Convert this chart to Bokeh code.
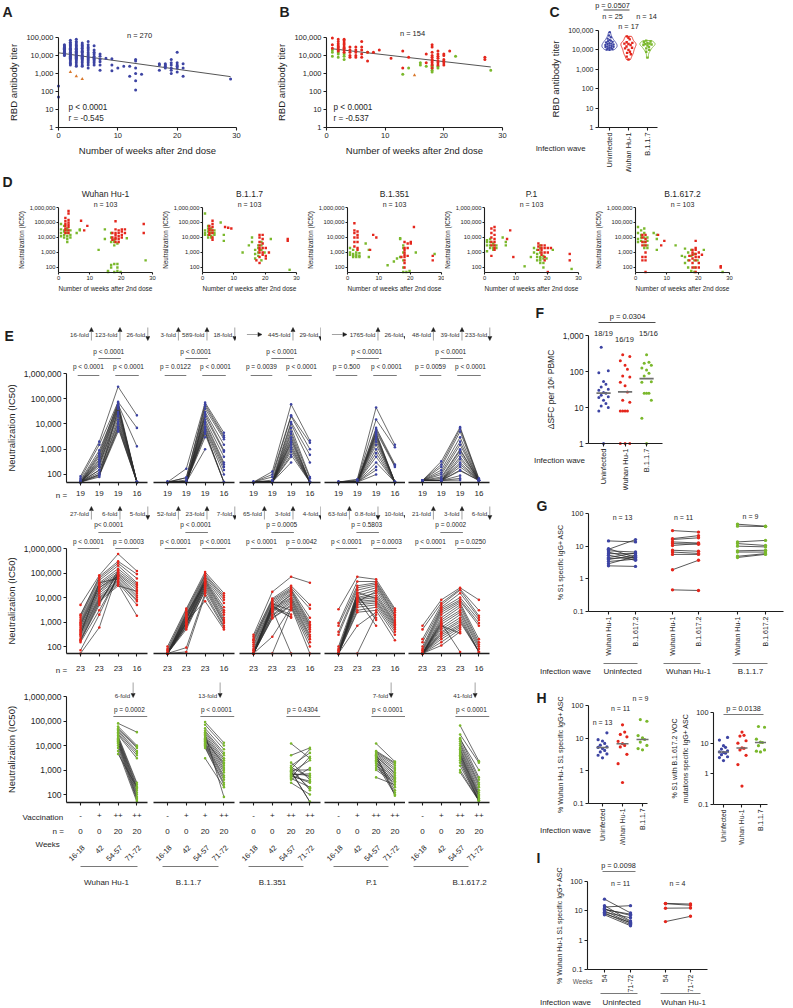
import math
import numpy as np
from bokeh.plotting import figure
from bokeh.models import Range1d, FixedTicker, NumeralTickFormatter, Label, Arrow, NormalHead
from bokeh.layouts import row, column
from bokeh.embed import file_html
from bokeh.resources import INLINE

# ============================ DATA ============================
# A  RBD antibody titer vs weeks after 2nd dose (uninfected)
A_WEEK = [0, 1, 2, 3, 4, 5, 6, 7, 8, 9, 10, 11, 12, 13, 14, 17, 18, 19, 20, 21, 29]
A_TITER = [
    [200, 50],
    [40000, 35000, 30000, 28000, 25000, 22000, 20000, 18000, 16000, 15000, 14000, 12000, 11000, 10000],
    [70000, 55000, 45000, 40000, 35000, 30000, 25000, 22000, 20000, 18000, 15000, 13000, 12000, 10000, 9000, 8000, 7000, 6000, 5000, 4000, 3500, 3000],
    [80000, 60000, 50000, 40000, 35000, 30000, 25000, 22000, 20000, 17000, 15000, 13000, 11000, 10000, 9000, 8000, 7000, 6000, 5000, 4000, 3000, 2500],
    [50000, 40000, 35000, 30000, 25000, 20000, 17000, 15000, 12000, 10000, 9000, 8000, 7000, 6000, 5000, 4000, 3000, 2500],
    [60000, 40000, 30000, 25000, 20000, 15000, 12000, 10000, 8000, 7000, 6000, 5000, 4000, 3000, 2000],
    [35000, 20000, 15000, 12000, 9000, 7000, 6000, 5000, 4000, 3000],
    [12000, 9000, 6000, 4500, 3000, 1500],
    [7000],
    [6500, 3000, 1400],
    [2000],
    [2500],
    [2500, 700],
    [6000, 5000, 2000, 1000, 400, 120],
    [900],
    [3500, 3000, 1500],
    [3500, 3000, 2500, 2000],
    [6000, 4000, 3000, 2000, 1500, 1000],
    [15000, 4000, 3000, 2500, 2000, 1200],
    [3500, 2000, 700],
    [500],
]
A_ORANGE_WEEK = [2, 3, 4]
A_ORANGE_TITER = [[1200], [700], [500]]

# B  RBD antibody titer vs weeks (previously infected)
B_RED_WEEK = [1, 2, 3, 4, 5, 6, 7, 8, 9, 11, 13, 14, 17, 18, 19, 20, 21, 27]
B_RED = [
    [95000, 40000, 25000],
    [80000, 60000, 45000, 35000, 30000, 25000, 20000, 18000],
    [80000, 65000, 50000, 40000, 30000, 25000, 20000, 15000],
    [30000, 20000, 15000, 10000, 8000],
    [30000, 20000, 15000, 10000, 8000],
    [60000, 30000, 20000, 12000, 8000],
    [15000, 5000],
    [15000],
    [20000],
    [7000],
    [18000, 2000],
    [8000],
    [12000, 4000],
    [40000, 30000, 15000, 10000, 8000, 6000, 5000, 4000, 3000, 2000],
    [18000, 12000, 9000, 7000, 5000, 4000, 3000],
    [12000, 10000, 6000, 5000, 4000, 3000],
    [18000],
    [8000, 6000],
]
B_GREEN_WEEK = [1, 2, 3, 7, 13, 14, 16, 17, 18, 19, 22, 28]
B_GREEN = [
    [20000, 15000, 9000], [15000, 12000, 8000], [12000, 9000, 6000], [15000], [900], [2000],
    [4000, 3000], [2500], [3000, 2500, 2000, 1500, 1200], [2500, 2000], [9000], [1500],
]
B_ORANGE_WEEK = [15]
B_ORANGE = [[800]]

# C  RBD titer by infection wave
C_GROUPS = ["Uninfected", "Wuhan Hu-1", "B.1.1.7"]
C_UNINF = [82000, 55000, 45000, 38000, 33000, 30000, 28000, 26000, 24000, 22000, 21000, 20000, 19000,
           18000, 17000, 16000, 15000, 14500, 14000, 13000, 12500, 12000, 11000, 10500, 10000]
C_WUHAN = [50000, 42000, 35000, 25000, 23000, 21000, 20000, 18000, 15000, 13000, 12000, 10000, 8000,
           7000, 6000, 4500, 3200]
C_B117 = [30000, 27000, 25000, 22000, 21000, 20000, 19000, 18000, 17000, 14000, 12000, 10000, 8000, 4000]

# D  neutralization vs weeks, per variant (red = Wuhan Hu-1 wave, green = B.1.1.7 wave)
D_VARIANTS = ["Wuhan Hu-1", "B.1.1.7", "B.1.351", "P.1", "B.1.617.2"]
D_RED_WEEK = [2, 3, 7, 8, 9, 17, 18, 19, 20, 21, 27]
D_WUHAN_RED = [[200000, 120000, 80000, 60000, 40000, 30000, 20000], [600000, 400000, 150000, 100000, 70000, 50000, 30000, 20000],
               [130000], [30000], [60000], [20000, 10000, 7000], [120000, 35000, 20000, 15000, 10000, 8000, 5000],
               [30000, 20000, 12000, 8000, 5000], [35000, 25000, 15000, 10000], [35000, 20000], [80000, 20000]]
D_B117_RED = [[60000, 40000, 30000, 20000, 15000], [130000, 80000, 50000, 30000, 20000, 10000, 7000], [50000], [45000], [40000],
              [300], [15000, 10000, 5000, 3000, 2000, 1500, 1000, 500, 200], [15000, 8000, 4000, 2000, 1000, 700],
              [2000, 600, 400], [1000], [8000, 6000]]
D_B1351_RED = [[90000, 30000, 20000, 10000, 5000, 2500], [25000, 15000, 10000, 5000, 2000, 1500], [1500], [15000], [10000],
               [500], [5000, 2000, 1500, 1000, 700, 500, 300, 200, 100], [4000, 2000, 600], [5000, 4000], [50000], [600, 300]]
D_P1_RED = [[40000, 20000, 10000, 5000, 3000, 600], [50000, 30000, 15000, 8000, 5000, 3000, 2000, 1500], [8000], [30000], [500],
            [4000, 2500, 1500], [3000, 2000, 1500, 1000, 700], [3000, 2000, 1000, 500, 300], [2000, 1000, 50], [2000], [800, 300]]
D_B16172_RED = [[15000, 10000, 5000, 3000, 500, 300], [15000, 8000, 5000, 3000, 1000, 500, 300, 50], [15000], [3000], [6000],
                [600, 300], [1500, 1000, 700, 400, 200, 100], [6000, 2000, 1500, 800, 500, 300, 100, 50], [1000, 500, 200, 100],
                [700], [120, 100]]
D_GREEN_WEEK = [1, 2, 3, 4, 6, 7, 13, 15, 16, 17, 18, 19, 20, 22, 28]
D_WUHAN_GREEN = [[80000, 35000, 20000, 12000], [60000, 30000, 25000, 15000, 10000], [40000, 30000, 20000, 12000, 8000, 5000],
                 [30000, 15000, 10000], [20000], [35000, 30000], [1500], [35000, 8000], [60, 50], [20000, 10000, 5000, 150, 100],
                 [7000, 5000, 3000, 170, 50], [4000, 170, 100, 60], [50], [9000], [300]]
D_B117_GREEN = [[400000, 30000, 20000, 15000], [60000, 40000, 25000, 15000, 10000], [40000, 30000, 20000, 12000, 10000],
                [30000, 20000, 15000], [100000], [15000, 6000], [1000], [3000], [10000, 5000], [1500, 800, 400],
                [3000, 2000, 1000, 600], [5000, 3000, 1500, 300], [1000], [8000], [70]]
D_B1351_GREEN = [[2000, 1000, 700], [1500, 800, 600, 500], [1000, 700, 500], [900, 600, 500], [4000], [1500, 500], [140],
                 [250], [400], [9000, 8000, 500], [3000, 2000, 1000, 300, 100, 50], [50], [60], [1000], [800]]
D_P1_GREEN = [[6600, 5000, 3000, 1200], [8000, 5000, 3000, 2000], [4000, 3000, 2000, 1500], [3000, 2000], [10000], [5000, 3000],
              [120], [500], [1000, 2000], [300, 500, 800, 1500], [200, 300, 400, 500, 1000, 2000, 3000], [100, 200, 400, 600],
              [400], [1500], [80]]
D_B16172_GREEN = [[50000, 20000, 8000, 5000], [30000, 15000, 10000, 6000], [40000, 20000, 10000, 5000, 3000, 2000],
                  [10000, 6000, 3000, 2000], [20000], [15000, 8000, 1500], [3000], [600], [1800, 500, 200], [1000, 100, 300],
                  [1500, 600, 60], [800, 300, 100, 50], [300], [1500], [50]]

# E  longitudinal neutralization; each list = [t1, t2, t3, t4] values per participant
E_VARIANTS = ["Wuhan Hu-1", "B.1.1.7", "B.1.351", "P.1", "B.1.617.2"]
E1_WUHAN = [[85, 70, 60, 55, 50, 50, 50, 50, 50, 50, 50, 50, 50, 50, 50, 50, 50, 50, 50],
            [2000, 1500, 900, 700, 600, 500, 400, 350, 300, 250, 250, 200, 150, 150, 120, 100, 100, 90, 80],
            [300000, 75000, 60000, 70000, 55000, 50000, 45000, 40000, 30000, 25000, 20000, 15000, 12000, 10000, 8000, 7000, 6000, 5000, 40000],
            [22000, 7000, 1300, 50, 50, 50, 50, 50, 50, 50, 50, 50, 50, 50, 50, 50]]
E1_B117 = [[50, 50, 50, 50, 50, 50, 50, 50, 50, 50, 50, 50, 50, 50, 50, 50, 50, 50, 50],
           [170, 75, 75, 60, 50, 50, 50, 50, 50, 50, 50, 50, 50, 50, 50, 50, 50, 50, 50],
           [70000, 60000, 50000, 40000, 30000, 25000, 20000, 15000, 12000, 10000, 8000, 7000, 6000, 5000, 5000, 4000, 3000, 1000, 20000],
           [4500, 3500, 3000, 2500, 1500, 900, 800, 500, 300, 250, 200, 150, 100, 50, 50, 50]]
E1_B1351 = [[50, 50, 50, 50, 50, 50, 50, 50, 50, 50, 50, 50, 50, 50, 50, 50, 50, 50, 50],
            [130, 100, 80, 60, 50, 50, 50, 50, 50, 50, 50, 50, 50, 50, 50, 50, 50, 50, 50],
            [60000, 22000, 20000, 12000, 10000, 7000, 5000, 4000, 3000, 2500, 2000, 1500, 1200, 1000, 800, 600, 500, 300, 1800],
            [2200, 1800, 1000, 600, 300, 80, 70, 50, 50, 50, 50, 50, 50, 50, 50, 50]]
E1_P1 = [[50, 50, 50, 50, 50, 50, 50, 50, 50, 50, 50, 50, 50, 50, 50, 50, 50, 50, 50],
         [65, 60, 55, 50, 50, 50, 50, 50, 50, 50, 50, 50, 50, 50, 50, 50, 50, 50, 50],
         [45000, 15000, 7000, 6000, 5000, 4500, 4000, 3500, 3000, 2500, 2000, 1500, 1000, 700, 500, 300, 200, 150, 100],
         [1500, 1200, 250, 220, 200, 50, 50, 50, 50, 50, 50, 50, 50, 50, 50, 50]]
E1_B16172 = [[58, 58, 58, 58, 58, 58, 58, 58, 58, 58, 58, 58, 58, 58, 58, 58, 58, 58, 58],
             [330, 250, 200, 150, 120, 100, 80, 70, 60, 58, 58, 58, 58, 58, 58, 58, 58, 58, 58],
             [7500, 6500, 5000, 3000, 2000, 1500, 1000, 900, 700, 500, 400, 300, 250, 200, 150, 140, 90, 70, 60],
             [70, 65, 60, 58, 58, 58, 58, 58, 58, 58, 58, 58, 58, 58, 58, 58]]

E2_WUHAN = [[5000, 2000, 1800, 1500, 1200, 1000, 900, 800, 600, 500, 450, 400, 350, 300, 250, 200, 180, 170, 150, 70, 52, 300, 700],
            [80000, 70000, 60000, 50000, 40000, 35000, 30000, 25000, 20000, 18000, 15000, 12000, 10000, 9000, 8000, 7000, 6000, 5000, 3000, 2000, 600, 40000, 25000],
            [600000, 300000, 250000, 200000, 150000, 120000, 100000, 90000, 80000, 70000, 60000, 50000, 45000, 40000, 35000, 30000, 100000, 130000, 70000, 85000, 110000, 60000, 75000],
            [120000, 90000, 60000, 40000, 35000, 30000, 25000, 20000, 15000, 12000, 10000, 8000, 7000, 5000, 1800, 18000]]
E2_B117 = [[100, 80, 70, 60, 55, 52, 52, 52, 52, 52, 52, 52, 52, 52, 52, 52, 52, 52, 52, 52, 52, 52, 52],
           [3500, 3000, 2500, 2000, 1800, 1500, 1200, 1000, 900, 800, 700, 600, 500, 90, 60, 1100, 1300, 1700, 2200, 1400, 950, 850, 650],
           [110000, 90000, 80000, 70000, 60000, 55000, 50000, 45000, 40000, 35000, 30000, 25000, 20000, 15000, 12000, 7000, 50000, 42000, 38000, 33000, 28000, 23000, 18000],
           [15000, 12000, 10000, 8000, 6000, 4000, 3000, 2500, 2000, 1500, 1200, 1000, 900, 700, 600, 500]]
E2_B1351 = [[300, 250, 200, 180, 150, 120, 100, 80, 70, 60, 52, 52, 52, 52, 52, 52, 52, 52, 52, 52, 52, 52, 52],
            [17000, 9000, 8000, 7000, 6000, 5000, 4500, 4000, 3500, 3000, 2500, 2000, 1800, 1500, 1400, 250, 52, 5500, 4200, 3800, 4800, 3300, 2800],
            [70000, 30000, 25000, 22000, 20000, 18000, 15000, 12000, 10000, 9000, 8000, 7000, 6000, 5000, 4500, 4000, 3500, 3000, 2000, 1600, 1500, 52, 14000],
            [40000, 5000, 3500, 1500, 1000, 800, 700, 600, 500, 400, 300, 250, 200, 150, 100, 52]]
E2_P1 = [[3300, 900, 700, 400, 300, 100, 80, 70, 60, 55, 52, 52, 52, 52, 52, 52, 52, 52, 52, 52, 52, 52, 52],
         [70000, 45000, 30000, 25000, 20000, 15000, 12000, 10000, 9000, 8000, 7000, 6000, 5000, 4000, 3000, 2500, 700, 52, 11000, 13000, 8500, 6500, 16000],
         [55000, 45000, 40000, 35000, 30000, 25000, 20000, 15000, 12000, 10000, 8000, 7000, 6000, 5000, 4000, 3000, 2500, 2000, 1500, 1200, 700, 18000, 9000],
         [3500, 3000, 2500, 2000, 1800, 1500, 1200, 1000, 900, 800, 700, 600, 500, 400, 300, 180]]
E2_B16172 = [[700, 500, 200, 150, 100, 80, 70, 60, 52, 52, 52, 52, 52, 52, 52, 52, 52, 52, 52, 52, 52, 52, 52],
             [8000, 6000, 5000, 4000, 3500, 3000, 2500, 2000, 1500, 1200, 1000, 800, 600, 500, 400, 350, 300, 250, 200, 150, 110, 700, 900],
             [25000, 22000, 20000, 15000, 10000, 8000, 7000, 6000, 5000, 4000, 3000, 2500, 2000, 1500, 1200, 1000, 800, 700, 600, 500, 400, 350, 60],
             [8000, 3000, 1800, 1500, 1200, 900, 700, 200, 150, 120, 100, 80, 60, 60, 60, 60]]

E3_WUHAN = [[80000, 60000, 50000, 45000, 40000, 35000, 30000, 27000, 25000, 22000, 20000, 18000, 16000, 15000, 13000, 12000, 10000, 8000, 6000, 4500],
            [35000, 10000, 9000, 8000, 6000, 5000, 4000, 3000, 300, 250, 200, 180, 150, 120, 100, 80, 70, 60, 50, 200]]
E3_B117 = [[90000, 70000, 50000, 40000, 35000, 30000, 25000, 22000, 20000, 18000, 15000, 13000, 12000, 11000, 10000, 9000, 8000, 3000, 28000, 16000],
           [13000, 10000, 7000, 5000, 4000, 3000, 2500, 2000, 1500, 1200, 1000, 800, 600, 500, 400, 300, 250, 200, 80, 1800]]
E3_B1351 = [[12000, 4000, 2000, 1500, 1200, 1100, 1000, 900, 800, 700, 600, 500, 450, 400, 300, 1300, 850, 650, 550, 950],
            [3000, 8000, 400, 5000, 150, 7000, 1000, 50, 2500, 600, 300, 3500, 200, 1200, 100, 500, 50, 700, 350, 180]]
E3_P1 = [[12000, 6000, 5500, 5000, 4500, 4000, 3500, 3000, 2500, 2000, 1500, 1200, 1000, 500, 3200, 2800, 2200, 1800, 4200, 3700],
         [2200, 2000, 1800, 1500, 1200, 1000, 800, 600, 500, 450, 400, 350, 300, 250, 200, 150, 120, 100, 90, 700]]
E3_B16172 = [[65000, 28000, 20000, 15000, 12000, 10000, 8000, 7000, 6000, 5000, 4500, 4000, 3500, 3000, 2500, 2000, 1500, 1000, 800, 18000],
             [2300, 2000, 500, 400, 300, 250, 200, 150, 120, 100, 90, 80, 70, 60, 55, 55, 55, 55, 55, 1000]]

E1_FOLD = [[("16-fold", "up"), ("123-fold", "up"), ("26-fold", "down")],
           [("3-fold", "up"), ("589-fold", "up"), ("18-fold", "down")],
           [("", "right"), ("445-fold", "up"), ("29-fold", "down")],
           [("", "right"), ("1765-fold", "up"), ("26-fold", "down")],
           [("48-fold", "up"), ("39-fold", "up"), ("233-fold", "down")]]
E2_FOLD = [[("27-fold", "up"), ("6-fold", "up"), ("5-fold", "down")],
           [("52-fold", "up"), ("23-fold", "up"), ("7-fold", "down")],
           [("65-fold", "up"), ("3-fold", "up"), ("4-fold", "down")],
           [("63-fold", "up"), ("0.8-fold", "down"), ("10-fold", "down")],
           [("21-fold", "up"), ("3-fold", "up"), ("6-fold", "down")]]
E3_FOLD = ["6-fold", "13-fold", "", "7-fold", "41-fold"]
E1_P = [["p < 0.0001", "p < 0.0001", "p < 0.0001"], ["p = 0.0122", "p < 0.0001", "p < 0.0001"],
        ["p = 0.0039", "p < 0.0001", "p < 0.0001"], ["p = 0.500", "p < 0.0001", "p < 0.0001"],
        ["p = 0.0059", "p < 0.0001", "p < 0.0001"]]
E2_P = [["p < 0.0001", "p< 0.0001", "p = 0.0003"], ["p < 0.0001", "p < 0.0001", "p < 0.0001"],
        ["p < 0.0001", "p = 0.0005", "p = 0.0042"], ["p < 0.0001", "p = 0.5803", "p = 0.0003"],
        ["p < 0.0001", "p = 0.0002", "p = 0.0250"]]
E3_P = ["p = 0.0002", "p < 0.0001", "p = 0.4304", "p < 0.0001", "p < 0.0001"]
E_VACC = [["-", "+", "++", "++"], ["-", "+", "+", "++"], ["-", "+", "++", "++"], ["-", "+", "++", "++"], ["-", "+", "++", "++"]]
E_WEEKS = ["16-18", "42", "54-57", "71-72"]

# F  ELISpot
F_UNINF = [470, 105, 92, 53, 44, 37, 32, 30, 26, 25, 22, 20, 19, 16, 13, 11, 10, 8, 1]
F_WUHAN = [290, 260, 200, 150, 115, 75, 70, 50, 40, 27, 16, 14, 8, 8, 8, 8, 1, 1, 1]
F_B117 = [290, 180, 170, 150, 125, 110, 90, 75, 52, 50, 25, 25, 25, 16, 5, 1]
F_RESP = ["18/19", "16/19", "15/16"]

# G  paired % S1-specific IgG+ ASC: Wuhan Hu-1 vs B.1.617.2
G_UNINF_WU = [14.5, 8.4, 8, 7.2, 6.6, 5.9, 5.3, 4.5, 4.2, 3.9, 3.4, 2.9, 2.5]
G_UNINF_DELTA = [13.5, 4.5, 15.9, 6.6, 4.1, 5.9, 3.7, 6.2, 4.5, 5.3, 4.0, 4.8, 2.4]
G_WUHAN_WU = [30, 17, 16, 13.5, 12, 10.5, 7.5, 6.6, 5.6, 1.9, 0.46]
G_WUHAN_DELTA = [27, 21, 18, 12.5, 11.5, 12, 7, 6, 5.6, 3.7, 0.44]
G_B117_WU = [47, 41, 13.5, 12, 10, 7.2, 6.6, 4.9, 4.5]
G_B117_DELTA = [41, 40, 15, 10.5, 9.5, 7.5, 6.6, 5.9, 5.6]

# H
H1_UNINF = [14.6, 9, 8.2, 6.9, 6.1, 5.4, 4.8, 4.2, 3.8, 3.3, 3.0, 2.5, 5.2]
H1_WUHAN = [25.7, 15.4, 13, 11, 8, 6.8, 6, 5.4, 3.2, 1.66, 0.44]
H1_B117 = [37, 33, 12, 10.3, 9.1, 7.6, 6, 4.4, 4.8]
H2_UNINF = [15.4, 12.6, 8.3, 7.3, 6.4, 5.6, 5, 4.7, 4.2, 3.6, 3.4, 2.7, 5.2]
H2_WUHAN = [23, 18, 17, 12, 10, 7, 6.8, 6, 4, 2, 0.4]
H2_B117 = [35, 33, 13.5, 10.8, 10.5, 8.3, 6, 5.5, 5.2]

# I  paired week 54 vs 71-72
I_UNINF_54 = [25, 15, 13.5, 12, 11, 10, 9, 8.5, 8, 7.3, 11.5]
I_UNINF_72 = [8.5, 4.5, 15, 4.2, 7.7, 3.8, 5.8, 3.4, 4, 3.1, 7]
I_WUHAN_54 = [18, 12.3, 4.3, 17.5]
I_WUHAN_72 = [17, 12.5, 6.5, 15.5]

# ============================ STYLE ============================
FONT = "Liberation Sans"
BLUE = "#3d44a3"
RED = "#e4261c"
GREEN = "#7ab82c"
ORANGE = "#d9782c"
INK = "#1e1e1e"
GREY = "#6a6a6a"
LINE = "#2e2e2e"
RIGHT = 792
BOTTOM = 1007


def fs(v):
    return "%.1fpx" % v


class Panel:
    """A figure whose frame fills its whole canvas; the data area is a sub-rectangle,
    and the axes are pinned to its edges with fixed_location/bounds."""

    def __init__(self, canvas, frame, xr, yr, ylog=True):
        self.frame = frame
        self.xr = xr
        self.yr = yr
        self.ylog = ylog
        x0, y0, x1, y1 = canvas
        self.cx0 = x0
        self.cy0 = y0
        p = figure(width=x1 - x0, height=y1 - y0,
                   min_border=0, min_border_left=0, min_border_right=0, min_border_top=0, min_border_bottom=0,
                   x_range=Range1d(self.dx(x0), self.dx(x1)), y_range=Range1d(self.dy(y1), self.dy(y0)),
                   y_axis_type="log" if ylog else "linear",
                   output_backend="svg", toolbar_location=None)
        p.outline_line_color = None
        p.xgrid.visible = False
        p.ygrid.visible = False
        p.background_fill_color = "white"
        p.border_fill_color = "white"
        p.xaxis.fixed_location = yr[0]
        p.yaxis.fixed_location = xr[0]
        p.xaxis.bounds = (xr[0], xr[1])
        p.yaxis.bounds = (yr[0], yr[1])
        for ax in p.axis:
            ax.axis_line_color = INK
            ax.axis_line_width = 1.1
            ax.major_tick_line_color = INK
            ax.major_tick_line_width = 1.1
            ax.major_tick_in = 0
            ax.major_tick_out = 3
            ax.minor_tick_line_color = None
            ax.major_label_standoff = 2
            ax.major_label_text_font = FONT
            ax.major_label_text_color = INK
            ax.axis_label_text_font = FONT
            ax.axis_label_text_font_style = "normal"
            ax.axis_label_text_color = INK
            ax.axis_label_standoff = 4
        self.p = p

    def dx(self, px):
        fx0, _, fx1, _ = self.frame
        return self.xr[0] + (px - fx0) / (fx1 - fx0) * (self.xr[1] - self.xr[0])

    def dy(self, py):
        _, fy0, _, fy1 = self.frame
        t = (fy1 - py) / (fy1 - fy0)
        if self.ylog:
            a, b = math.log10(self.yr[0]), math.log10(self.yr[1])
            return 10 ** (a + t * (b - a))
        return self.yr[0] + t * (self.yr[1] - self.yr[0])

    def text(self, px, py, s, size=7, align="center", baseline="middle", angle=0.0, color=INK, bold=False):
        self.p.add_layout(Label(x=px - self.cx0, y=py - self.cy0, x_units="canvas", y_units="canvas",
                                text=s, text_font=FONT, text_font_size=fs(size),
                                text_align=align, text_baseline=baseline, angle=angle, text_color=color,
                                text_font_style="bold" if bold else "normal"))

    def seg(self, x0, y0, x1, y1, color=GREY, width=0.9):
        self.p.add_layout(Arrow(x_start=self.dx(x0), y_start=self.dy(y0), x_end=self.dx(x1), y_end=self.dy(y1),
                                start=None, end=None, line_color=color, line_width=width))

    def arrow(self, x0, y0, x1, y1):
        self.p.add_layout(Arrow(x_start=self.dx(x0), y_start=self.dy(y0), x_end=self.dx(x1), y_end=self.dy(y1),
                                start=None, end=NormalHead(size=4, fill_color=INK, line_color=INK, line_width=0.5),
                                line_color="#8a8a8a", line_width=0.8))

    def yticks(self, ticks, size):
        ax = self.p.yaxis
        ax.ticker = FixedTicker(ticks=list(ticks))
        ax.formatter = NumeralTickFormatter(format="0,0.[0]")
        ax.major_label_text_font_size = fs(size)

    def xticks(self, ticks, labels=None, size=7, orient=None):
        ax = self.p.xaxis
        ax.ticker = FixedTicker(ticks=list(ticks))
        if labels is not None:
            ax.major_label_overrides = {t: l for t, l in zip(ticks, labels)}
        ax.major_label_text_font_size = fs(size)
        if orient is not None:
            ax.major_label_orientation = orient

    def ytitle(self, s, size):
        self.p.yaxis.axis_label = s
        self.p.yaxis.axis_label_text_font_size = fs(size)

    def xtitle(self, s, size):
        self.p.xaxis.axis_label = s
        self.p.xaxis.axis_label_text_font_size = fs(size)


def flat(weeks, vals, off=0.0):
    xs, ys = [], []
    for w, vs in zip(weeks, vals):
        for v in vs:
            xs.append(w + off)
            ys.append(v)
    return xs, ys


def fit_line(panel, xs, ys):
    x = np.array(xs, float)
    k, b = np.polyfit(x, np.log10(np.array(ys, float)), 1)
    x0, x1 = float(x.min()), float(x.max())
    panel.p.line([x0, x1], [10 ** (b + k * x0), 10 ** (b + k * x1)], line_color="#555555", line_width=1)


def spread(vals, center, width):
    order = np.argsort(vals)
    pattern = [0.0, -1.0, 1.0, -0.5, 0.5]
    xs = np.zeros(len(vals))
    for rank, idx in enumerate(order):
        xs[idx] = center + pattern[rank % 5] * width
    return list(xs)


def dotplot(panel, groups, colors, size=3.2, width=0.2, medw=0.33, medcolor="#6f6f6f", medwidth=1.8):
    for k, (vals, col) in enumerate(zip(groups, colors)):
        panel.p.scatter(spread(vals, k, width), vals, size=size, color=col, line_width=0)
        m = float(np.median(vals))
        panel.p.segment([k - medw], [m], [k + medw], [m], line_color=medcolor, line_width=medwidth)


def pairs(panel, x0, x1, a, b, col, size=3.4):
    panel.p.multi_line([[x0, x1] for _ in a], [[u, v] for u, v in zip(a, b)], line_color=LINE, line_width=0.8)
    panel.p.scatter([x0] * len(a) + [x1] * len(b), list(a) + list(b), size=size, color=col, line_width=0)


# ============================ TOP ROW: A, B, C ============================
TOP = 172
A = Panel((0, 0, 272, TOP), (58, 37, 236, 127), (0, 30), (1, 1e5))
A.yticks([1, 10, 100, 1000, 1e4, 1e5], 7.5)
A.xticks([0, 10, 20, 30], size=7.5)
A.ytitle("RBD antibody titer", 9.5)
A.xtitle("Number of weeks after 2nd dose", 9.5)
ax_, ay_ = flat(A_WEEK, A_TITER)
ox_, oy_ = flat(A_ORANGE_WEEK, A_ORANGE_TITER)
fit_line(A, ax_ + ox_, ay_ + oy_)
A.p.scatter(ax_, ay_, size=3.0, color=BLUE, line_width=0)
A.p.scatter(ox_, oy_, marker="triangle", size=3.4, color=ORANGE, line_width=0)
A.text(139, 35, "n = 270", 7.5)
A.text(68, 107, "p < 0.0001", 8.2, align="left")
A.text(68, 118, "r = -0.545", 8.2, align="left")
A.text(2, 11, "A", 14, align="left", bold=True)

B = Panel((272, 0, 515, TOP), (326, 37, 502, 127), (0, 30), (1, 1e5))
B.yticks([1, 10, 100, 1000, 1e4, 1e5], 7.5)
B.xticks([0, 10, 20, 30], size=7.5)
B.ytitle("RBD antibody titer", 9.5)
B.xtitle("Number of weeks after 2nd dose", 9.5)
brx, bry = flat(B_RED_WEEK, B_RED)
bgx, bgy = flat(B_GREEN_WEEK, B_GREEN)
box, boy = flat(B_ORANGE_WEEK, B_ORANGE)
fit_line(B, brx + bgx + box, bry + bgy + boy)
B.p.scatter(bgx, bgy, size=3.0, color=GREEN, line_width=0)
B.p.scatter(brx, bry, size=3.0, color=RED, line_width=0)
B.p.scatter(box, boy, marker="triangle", size=3.4, color=ORANGE, line_width=0)
B.text(412, 33, "n = 154", 7.5)
B.text(333, 107, "p < 0.0001", 8.2, align="left")
B.text(333, 118, "r = -0.537", 8.2, align="left")
B.text(279, 11, "B", 14, align="left", bold=True)

C = Panel((515, 0, RIGHT, TOP), (598, 30, 657, 127), (-0.58, 2.53), (1, 1e5))
C.yticks([1, 10, 100, 1000, 1e4, 1e5], 7)
C.xticks([0, 1, 2], C_GROUPS, size=7.3, orient=math.pi / 2)
C.ytitle("RBD antibody titer", 9.5)
for k, (vals, col, mk) in enumerate(zip([C_UNINF, C_WUHAN, C_B117], [BLUE, RED, GREEN], ["circle", "square", "square"])):
    lv = np.log10(np.array(vals, float))
    g = np.linspace(lv.min(), lv.max(), 60)
    d = np.exp(-0.5 * ((g[:, None] - lv[None, :]) / 0.12) ** 2).sum(axis=1)
    w = d / d.max() * 0.4
    C.p.patch(list(np.concatenate([k + w, (k - w)[::-1]])), list(np.concatenate([10 ** g, (10 ** g)[::-1]])),
              fill_color="white", line_color=col, line_width=0.9)
    wi = np.interp(lv, g, w)
    order = np.argsort(lv)
    pat = [0.0, -0.55, 0.55, -0.28, 0.28]
    xs = np.zeros(len(vals))
    for r, idx in enumerate(order):
        xs[idx] = k + pat[r % 5] * wi[idx]
    C.p.scatter(list(xs), vals, marker=mk, size=2.4, color=col, line_width=0)
C.text(612, 5, "p = 0.0507", 7.3)
C.seg(603, 9.5, 629, 9.5, color=INK, width=0.8)
C.text(612, 16, "n = 25", 7.3)
C.text(646, 16, "n = 14", 7.3)
C.text(628, 26, "n = 17", 7.3)
C.text(585, 148, "Infection wave", 7.8, align="right")
C.text(549, 11, "C", 14, align="left", bold=True)

# ============================ ROW D ============================
D_BOUNDS = [0, 158, 305, 444, 587, RIGHT]
D_LEFT = [58, 202, 347, 484, 635]
D_RED = [D_WUHAN_RED, D_B117_RED, D_B1351_RED, D_P1_RED, D_B16172_RED]
D_GREEN = [D_WUHAN_GREEN, D_B117_GREEN, D_B1351_GREEN, D_P1_GREEN, D_B16172_GREEN]
D_P = []
for i in range(5):
    d = Panel((D_BOUNDS[i], TOP, D_BOUNDS[i + 1], 293), (D_LEFT[i], 207, D_LEFT[i] + 94, 272), (0, 30), (46.4, 1e6))
    d.yticks([100, 1000, 1e4, 1e5, 1e6], 5.8)
    d.xticks([0, 10, 20, 30], size=5.8)
    d.p.yaxis.major_label_standoff = 1
    d.p.xaxis.major_label_standoff = 1
    d.p.yaxis.axis_label_standoff = 2
    d.p.xaxis.axis_label_standoff = 2
    d.p.yaxis.major_tick_out = 2
    d.p.xaxis.major_tick_out = 2
    d.ytitle("Neutralization (IC50)", 6.3)
    d.xtitle("Number of weeks after 2nd dose", 6.5)
    gx, gy = flat(D_GREEN_WEEK, D_GREEN[i], -0.2)
    rx, ry = flat(D_RED_WEEK, D_RED[i], 0.2)
    d.p.scatter(gx, gy, marker="square", size=2.4, color=GREEN, line_width=0)
    d.p.scatter(rx, ry, marker="square", size=2.4, color=RED, line_width=0)
    cxm = D_LEFT[i] + 47
    d.text(cxm, 193, D_VARIANTS[i], 8.5)
    d.text(cxm, 204, "n = 103", 7)
    D_P.append(d)
D_P[0].text(2, 181, "D", 14, align="left", bold=True)

# ============================ PANEL E ============================
E_START = [80, 167, 253, 338, 422]
E_STEP = 18.8
E_BOUNDS = [0, 150, 236, 321, 405, 500]
E_GEOM = [(293, 500, 373, 482, 48.2), (500, 676, 548, 653, 51.8), (676, BOTTOM, 696, 802, 47.2)]
E_DATA = [[E1_WUHAN, E1_B117, E1_B1351, E1_P1, E1_B16172],
          [E2_WUHAN, E2_B117, E2_B1351, E2_P1, E2_B16172],
          [E3_WUHAN, E3_B117, E3_B1351, E3_P1, E3_B16172]]
E_COL = [BLUE, RED, GREEN]
E_UNDER = [(80, 137), (162, 218), (248, 303), (333, 388), (413, 468)]
E_NAMEX = [106, 188, 272, 371, 469]


def ecx(i, c):
    return E_START[i] + c * E_STEP


E_ROWS = []
for r in range(3):
    cy0, cy1, fy0, fy1, ymin = E_GEOM[r]
    panels = []
    for i in range(5):
        e = Panel((E_BOUNDS[i], cy0, E_BOUNDS[i + 1], cy1), (E_START[i] - 14, fy0, E_START[i] + 67, fy1),
                  (-14 / E_STEP, 67 / E_STEP), (ymin, 1e6))
        data = E_DATA[r][i]
        col = E_COL[r]
        # tick labels below each timepoint: n for rows 1-2, vaccination status for row 3
        if r < 2:
            e.xticks([0, 1, 2, 3], [str(len(t)) for t in data], size=8)
            e.p.xaxis.major_label_standoff = 5 if r == 0 else 9
        else:
            e.xticks([0, 1, 2, 3], E_VACC[i], size=8)
            e.p.xaxis.major_label_standoff = 7
        e.p.xaxis.axis_line_width = 1.4
        if i == 0:
            e.yticks([100, 1000, 1e4, 1e5, 1e6], 8.5)
            e.ytitle("Neutralization (IC50)", 9.5)
        else:
            e.p.yaxis.visible = False
        if r < 2:
            t1, t2, t3, t4 = data
            xs, ys = [], []
            for j in range(len(t1)):
                yy = [t1[j], t2[j], t3[j]] + ([t4[j]] if j < len(t4) else [])
                xs.append(list(range(len(yy))))
                ys.append(yy)
            e.p.multi_line(xs, ys, line_color=LINE, line_width=0.7)
            px_, py_ = [], []
            for k, t in enumerate(data):
                px_ += [k] * len(t)
                py_ += t
            e.p.scatter(px_, py_, size=2.6, color=col, line_width=0)
            ny = 495 if r == 0 else 670
            if i == 0:
                e.text(61, ny, "n =", 8)
            fy = 334 if r == 0 else 513
            folds = E1_FOLD[i] if r == 0 else E2_FOLD[i]
            for k, (lab, dirn) in enumerate(folds):
                axp = ecx(i, [0.58, 2.1, 3.58][k])
                if dirn == "up":
                    e.arrow(axp, fy + 6, axp, fy - 7)
                elif dirn == "down":
                    e.arrow(axp, fy - 7, axp, fy + 6)
                else:
                    e.arrow(ecx(i, -0.35), fy, ecx(i, 0.45), fy)
                if lab:
                    e.text(axp - 2.5, fy, lab, 6.2, align="right", color="#333333")
            pv = E1_P[i] if r == 0 else E2_P[i]
            ty, tl, ly, ll = (351, 358, 366, 375) if r == 0 else (524, 532, 541, 548)
            e.text(ecx(i, 0.42), ly, pv[0], 6.5)
            e.seg(ecx(i, -0.15), ll, ecx(i, 1.0), ll)
            e.text(ecx(i, 1.5), ty, pv[1], 6.5)
            e.seg(ecx(i, 0.95), tl, ecx(i, 2.15), tl)
            e.text(ecx(i, 2.55), ly, pv[2], 6.5)
            e.seg(ecx(i, 1.85), ll, ecx(i, 3.1), ll)
        else:
            t3, t4 = data
            e.p.multi_line([[2, 3] for _ in t3], [[a, b] for a, b in zip(t3, t4)], line_color=LINE, line_width=0.7)
            e.p.scatter([2] * len(t3) + [3] * len(t4), t3 + t4, size=2.6, color=col, line_width=0)
            axp = ecx(i, 2.8)
            if E3_FOLD[i]:
                e.arrow(axp, 682, axp, 697)
                e.text(axp - 3, 695, E3_FOLD[i], 6.2, align="right", color="#333333")
            e.text(ecx(i, 2.6), 709, E3_P[i], 6.5)
            e.seg(ecx(i, 1.75), 716, ecx(i, 3.55), 716)
            if i == 0:
                e.text(22, 817, "Vaccination", 8, align="left")
                e.text(52, 831, "n =", 8, align="left")
                e.text(35, 844, "Weeks", 8, align="left")
            ns = [0, 0, len(t3), len(t4)]
            for k in range(4):
                e.text(ecx(i, k), 831, str(ns[k]), 8)
                e.text(ecx(i, k) + 3, 846, E_WEEKS[k], 7.5, align="right", angle=math.pi / 4)
            u0, u1 = E_UNDER[i]
            e.seg(u0, 866, u1, 866)
            e.text(E_NAMEX[i], 882, E_VARIANTS[i], 8)
        panels.append(e)
    E_ROWS.append(panels)
E_ROWS[0][0].text(4, 335, "E", 14, align="left", bold=True)

# ============================ RIGHT COLUMN: F, G, H, I ============================
F = Panel((500, 293, RIGHT, 490), (588, 335, 662, 443), (-0.70, 2.74), (1, 1000))
F.yticks([1, 10, 100, 1000], 8.3)
F.xticks([0, 1, 2], C_GROUPS, size=7.5, orient=math.pi / 2)
F.ytitle("ΔSFC per 10⁶ PBMC", 8.5)
dotplot(F, [F_UNINF, F_WUHAN, F_B117], [BLUE, RED, GREEN], size=3.0, width=0.22)
F.text(627, 316, "p = 0.0304", 7.5)
F.seg(598, 322, 655, 322, color=INK, width=0.8)
F.text(603, 333, F_RESP[0], 7.5)
F.text(624, 339, F_RESP[1], 7.5)
F.text(648, 333, F_RESP[2], 7.5)
F.text(559, 460, "Infection wave", 8)
F.text(535, 312, "F", 14, align="left", bold=True)

G_PX = [608, 635, 672, 698, 737, 765]
G = Panel((500, 490, RIGHT, 680), (588, 513, 783, 611), (-0.74, 6.48), (0.1, 100))
gx = [G.dx(v) for v in G_PX]
G.yticks([0.1, 1, 10, 100], 7.3)
G.xticks(gx, ["Wuhan Hu-1", "B.1.617.2"] * 3, size=7, orient=math.pi / 2)
G.ytitle("% S1 specific IgG+ ASC", 7)
pairs(G, gx[0], gx[1], G_UNINF_WU, G_UNINF_DELTA, BLUE)
pairs(G, gx[2], gx[3], G_WUHAN_WU, G_WUHAN_DELTA, RED)
pairs(G, gx[4], gx[5], G_B117_WU, G_B117_DELTA, GREEN)
G.text(622, 517, "n = %d" % len(G_UNINF_WU), 7)
G.text(683, 517, "n = %d" % len(G_WUHAN_WU), 7)
G.text(750, 516, "n = %d" % len(G_B117_WU), 7)
for (u0, u1), name, cxn in zip([(603, 637), (663, 700), (732, 767)], C_GROUPS, [622, 688, 750]):
    G.seg(u0, 663, u1, 663)
    G.text(cxn, 671, name, 8)
G.text(565, 671, "Infection wave", 8)
G.text(536, 505, "G", 14, align="left", bold=True)

H1 = Panel((500, 680, 655, 845), (588, 705, 647, 803), (-0.7, 2.25), (0.1, 100))
H1.yticks([0.1, 1, 10, 100], 7.3)
H1.xticks([0, 1, 2], C_GROUPS, size=6.8, orient=math.pi / 2)
H1.ytitle("% Wuhan Hu-1 S1 specific IgG+ ASC", 7)
dotplot(H1, [H1_UNINF, H1_WUHAN, H1_B117], [BLUE, RED, GREEN], size=3.2, width=0.22, medw=0.3, medwidth=1.5)
H1.text(602, 722, "n = %d" % len(H1_UNINF), 7)
H1.text(620, 708, "n = %d" % len(H1_WUHAN), 7)
H1.text(640, 698, "n = %d" % len(H1_B117), 7)
H1.text(565, 830, "Infection wave", 8)
H1.text(536, 697, "H", 14, align="left", bold=True)

H2 = Panel((655, 680, RIGHT, 845), (713, 712, 767, 804), (-0.54, 2.38), (0.1, 100))
H2.yticks([0.1, 1, 10, 100], 7.3)
H2.xticks([0, 1, 2], C_GROUPS, size=6.8, orient=math.pi / 2)
dotplot(H2, [H2_UNINF, H2_WUHAN, H2_B117], [BLUE, RED, GREEN], size=3.2, width=0.22, medw=0.3, medwidth=1.5)
H2.text(674, 758, "% S1 with B.1.617.2 VOC", 7, angle=math.pi / 2)
H2.text(685, 758, "mutations specific IgG+ ASC", 7, angle=math.pi / 2)
H2.text(743, 708, "p = 0.0138", 7.3)
H2.seg(723, 714, 763, 714)

I_PX = [604, 630, 665, 690]
I = Panel((500, 845, RIGHT, BOTTOM), (587, 881, 707, 969), (-0.65, 3.96), (0.1, 100))
ix = [I.dx(v) for v in I_PX]
I.yticks([0.1, 1, 10, 100], 7.3)
I.xticks(ix, ["54", "71-72", "54", "71-72"], size=7, orient=math.pi / 2)
I.ytitle("% Wuhan Hu-1 S1 specific IgG+ ASC", 7)
pairs(I, ix[0], ix[1], I_UNINF_54, I_UNINF_72, BLUE)
pairs(I, ix[2], ix[3], I_WUHAN_54, I_WUHAN_72, RED)
I.text(618, 865, "p = 0.0098", 7.3)
I.seg(602, 871, 635, 871)
I.text(620, 883, "n = %d" % len(I_UNINF_54), 7)
I.text(677, 883, "n = %d" % len(I_WUHAN_54), 7)
I.text(592, 981, "Weeks", 6.5, align="right", color="#555555")
for (u0, u1), name, cxn in zip([(600, 637), (660, 700)], C_GROUPS[:2], [621, 683]):
    I.seg(u0, 993, u1, 993)
    I.text(cxn, 1002, name, 8)
I.text(565, 1002, "Infection wave", 8)
I.text(536, 857, "I", 14, align="left", bold=True)

# ============================ LAYOUT ============================
top = row(A.p, B.p, C.p)
drow = row(*[d.p for d in D_P])
ecol = column(*[row(*[e.p for e in rr]) for rr in E_ROWS])
rcol = column(F.p, G.p, row(H1.p, H2.p), I.p)
layout = column(top, drow, row(ecol, rcol))

open("out.html", "w").write(file_html(layout, INLINE))
